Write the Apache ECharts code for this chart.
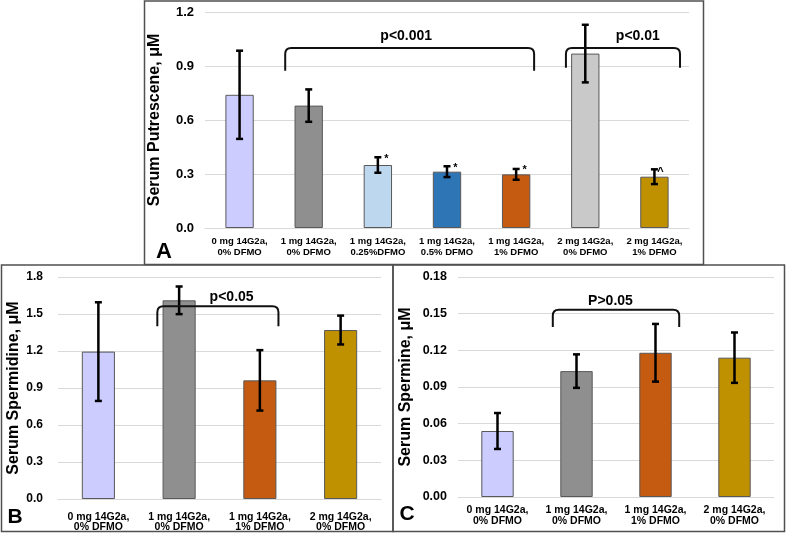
<!DOCTYPE html>
<html>
<head>
<meta charset="utf-8">
<script src="https://cdn.jsdelivr.net/npm/echarts@6/dist/echarts.min.js"></script>
<style>
html,body{margin:0;padding:0;background:#fff;}
#chart{width:786px;height:533px;}
</style>
</head>
<body>
<div id="chart"></div>
<script>
// ---- data ----
const categoriesA = ['0 mg 14G2a,\n0% DFMO', '1 mg 14G2a,\n0% DFMO', '1 mg 14G2a,\n0.25%DFMO', '1 mg 14G2a,\n0.5% DFMO', '1 mg 14G2a,\n1% DFMO', '2 mg 14G2a,\n0% DFMO', '2 mg 14G2a,\n1% DFMO'];
const putrescene = [0.74, 0.68, 0.35, 0.313, 0.298, 0.969, 0.285];
const putresceneErr = [0.245, 0.09, 0.043, 0.03, 0.03, 0.16, 0.041];
const putresceneMarks = ['', '', '*', '*', '*', '', '^'];
const colorsA = ['#CCCCFF', '#8F8F8F', '#BDD7EE', '#2E75B6', '#C55A11', '#C9C9C9', '#BF9000'];

const categoriesBC = ['0 mg 14G2a,\n0% DFMO', '1 mg 14G2a,\n0% DFMO', '1 mg 14G2a,\n1% DFMO', '2 mg 14G2a,\n0% DFMO'];
const colorsBC = ['#CCCCFF', '#8F8F8F', '#C55A11', '#BF9000'];
const spermidine = [1.195, 1.611, 0.962, 1.37];
const spermidineErr = [0.40, 0.112, 0.245, 0.117];
const spermine = [0.054, 0.103, 0.118, 0.114];
const spermineErr = [0.0147, 0.0137, 0.0236, 0.0206];

// brackets: [fromCat, toCat, topValue, endValue, labelCat, labelValue]
const bracketsA = [
  [0.66, 4.26, 1.0, 0.874, 2.41, 1.065],
  [4.72, 6.37, 1.0, 0.89, 5.76, 1.065]
];
const bracketLabelsA = ['p<0.001', 'p<0.01'];
const bracketsB = [[0.73, 2.23, 1.562, 1.40, 1.65, 1.64]];
const bracketLabelsB = ['p<0.05'];
const bracketsC = [[0.70, 2.30, 0.1533, 0.139, 1.43, 0.1605]];
const bracketLabelsC = ['P>0.05'];

// ---- chart ----
const FONT = '"Liberation Sans", Arial, Helvetica, sans-serif';
const chart = echarts.init(document.getElementById('chart'), null, {renderer: 'canvas'});

function barData(vals, colors) {
  return vals.map((v, i) => ({value: v, itemStyle: {color: colors[i]}}));
}
function errData(vals, errs) {
  return vals.map((v, i) => [i, v, errs[i]]);
}
function errRender(marks) {
  return function (params, api) {
    const i = api.value(0), m = api.value(1), e = api.value(2);
    const top = api.coord([i, m + e]);
    const bot = api.coord([i, m - e]);
    const x = top[0], cap = 3.5;
    const st = {stroke: '#000', lineWidth: 2.5};
    const children = [
      {type: 'line', shape: {x1: x, y1: top[1], x2: x, y2: bot[1]}, style: st},
      {type: 'line', shape: {x1: x - cap, y1: top[1], x2: x + cap, y2: top[1]}, style: st},
      {type: 'line', shape: {x1: x - cap, y1: bot[1], x2: x + cap, y2: bot[1]}, style: st}
    ];
    const mk = marks ? marks[params.dataIndex] : '';
    if (mk) {
      children.push({type: 'text', x: x + (mk === '^' ? 6 : 8.5), y: top[1] + (mk === '^' ? 3 : 1.5),
        style: {text: mk, fill: '#000', fontSize: 11, fontWeight: 'bold', fontFamily: FONT, align: 'center', verticalAlign: 'middle'}});
    }
    return {type: 'group', children};
  };
}
function bracketRender(labels) {
  return function (params, api) {
    const yt = api.value(1), x1v = api.value(2), x2v = api.value(3), ye = api.value(4);
    const lx = api.value(5), ly = api.value(6);
    const o = api.coord([0, yt]);
    const band = api.size([1, 0])[0];
    const X = v => o[0] + v * band;
    const yT = o[1];
    const yE = api.coord([0, ye])[1];
    const yL = api.coord([0, ly])[1];
    const a = X(x1v), b = X(x2v), r = 6;
    const path = `M${a},${yE} L${a},${yT + r} Q${a},${yT} ${a + r},${yT} L${b - r},${yT} Q${b},${yT} ${b},${yT + r} L${b},${yE}`;
    return {type: 'group', children: [
      {type: 'path', shape: {pathData: path}, style: {stroke: '#111', lineWidth: 2, fill: null}},
      {type: 'text', x: X(lx), y: yL, style: {text: labels[params.dataIndex], fill: '#000', fontSize: 14, fontWeight: 'bold', fontFamily: FONT, align: 'center', verticalAlign: 'middle'}}
    ]};
  };
}
function bracketData(list) {
  return list.map(b => [0, b[2], b[0], b[1], b[3], b[4], b[5]]);
}

const xAxisBase = (idx, cats, fs, margin, lh) => ({
  type: 'category', gridIndex: idx, data: cats,
  axisTick: {show: false},
  axisLine: {lineStyle: {color: '#D9D9D9', width: 1}},
  axisLabel: {interval: 0, color: '#000', fontWeight: 'bold', fontSize: fs, fontFamily: FONT, margin: margin, lineHeight: lh}
});
const yAxisBase = (idx, max, interval, dec, name, gap, fs, margin) => ({
  type: 'value', gridIndex: idx, min: 0, max: max, interval: interval,
  axisLine: {show: false}, axisTick: {show: false},
  splitLine: {lineStyle: {color: '#D9D9D9', width: 1}},
  axisLabel: {color: '#000', fontWeight: 'bold', fontSize: fs, fontFamily: FONT, margin: margin, formatter: v => v.toFixed(dec)},
  name: name, nameLocation: 'middle', nameGap: gap,
  nameTextStyle: {color: '#000', fontWeight: 'bold', fontSize: 16, fontFamily: FONT}
});

const barStyle = {borderColor: '#595959', borderWidth: 1};

const option = {
  animation: false,
  backgroundColor: '#fff',
  grid: [
    {left: 205, top: 12, width: 484, height: 216},
    {left: 58, top: 277, width: 323, height: 222},
    {left: 458, top: 277, width: 316, height: 220}
  ],
  xAxis: [
    xAxisBase(0, categoriesA, 9.5, 8, 11),
    xAxisBase(1, categoriesBC, 10.5, 13, 10),
    xAxisBase(2, categoriesBC, 10.5, 8, 11)
  ],
  yAxis: [
    yAxisBase(0, 1.2, 0.3, 1, 'Serum Putrescene, μM', 42, 13, 11),
    yAxisBase(1, 1.8, 0.3, 1, 'Serum Spermidine, μM', 36, 12, 15),
    yAxisBase(2, 0.18, 0.03, 2, 'Serum Spermine, μM', 44, 12.5, 11)
  ],
  series: [
    {type: 'bar', xAxisIndex: 0, yAxisIndex: 0, barWidth: '41%', itemStyle: barStyle, data: barData(putrescene, colorsA)},
    {type: 'bar', xAxisIndex: 1, yAxisIndex: 1, barWidth: '41%', itemStyle: barStyle, data: barData(spermidine, colorsBC)},
    {type: 'bar', xAxisIndex: 2, yAxisIndex: 2, barWidth: '41%', itemStyle: barStyle, data: barData(spermine, colorsBC)},
    {type: 'custom', xAxisIndex: 0, yAxisIndex: 0, renderItem: errRender(putresceneMarks), encode: {x: 0, y: 1}, data: errData(putrescene, putresceneErr), z: 5},
    {type: 'custom', xAxisIndex: 1, yAxisIndex: 1, renderItem: errRender(null), encode: {x: 0, y: 1}, data: errData(spermidine, spermidineErr), z: 5},
    {type: 'custom', xAxisIndex: 2, yAxisIndex: 2, renderItem: errRender(null), encode: {x: 0, y: 1}, data: errData(spermine, spermineErr), z: 5},
    {type: 'custom', xAxisIndex: 0, yAxisIndex: 0, renderItem: bracketRender(bracketLabelsA), encode: {x: 0, y: 1}, data: bracketData(bracketsA), z: 6, clip: false},
    {type: 'custom', xAxisIndex: 1, yAxisIndex: 1, renderItem: bracketRender(bracketLabelsB), encode: {x: 0, y: 1}, data: bracketData(bracketsB), z: 6, clip: false},
    {type: 'custom', xAxisIndex: 2, yAxisIndex: 2, renderItem: bracketRender(bracketLabelsC), encode: {x: 0, y: 1}, data: bracketData(bracketsC), z: 6, clip: false}
  ],
  graphic: [
    {type: 'rect', shape: {x: 144.5, y: 1, width: 559, height: 263.5}, style: {fill: null, stroke: '#505050', lineWidth: 1.5}, z: 100},
    {type: 'rect', shape: {x: 1.5, y: 265, width: 391.5, height: 266.5}, style: {fill: null, stroke: '#505050', lineWidth: 1.5}, z: 100},
    {type: 'rect', shape: {x: 393, y: 265, width: 391.5, height: 266.5}, style: {fill: null, stroke: '#505050', lineWidth: 1.5}, z: 100},
    {type: 'text', x: 164, y: 252, style: {text: 'A', fill: '#000', fontSize: 22, fontWeight: 'bold', fontFamily: FONT, align: 'center', verticalAlign: 'middle'}, z: 100},
    {type: 'text', x: 15, y: 517, style: {text: 'B', fill: '#000', fontSize: 21, fontWeight: 'bold', fontFamily: FONT, align: 'center', verticalAlign: 'middle'}, z: 100},
    {type: 'text', x: 407, y: 514, style: {text: 'C', fill: '#000', fontSize: 21, fontWeight: 'bold', fontFamily: FONT, align: 'center', verticalAlign: 'middle'}, z: 100}
  ]
};
chart.setOption(option);
</script>
</body>
</html>
